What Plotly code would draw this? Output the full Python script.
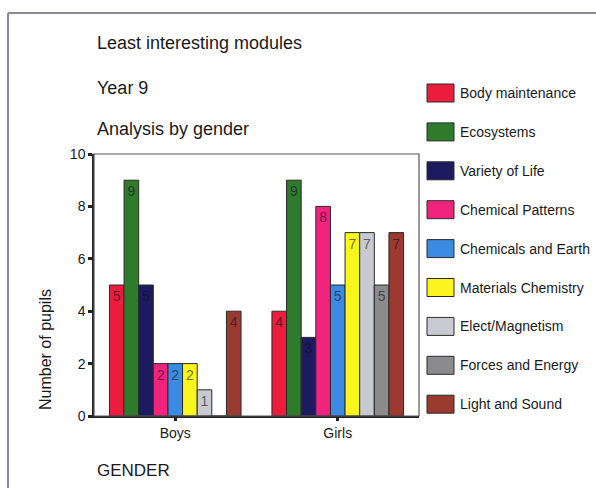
import plotly.graph_objects as go

# Pupil counts for the least interesting modules, Year 9, split by gender
genders = ["Boys", "Girls"]
modules = [
    "Body maintenance",
    "Ecosystems",
    "Variety of Life",
    "Chemical Patterns",
    "Chemicals and Earth",
    "Materials Chemistry",
    "Elect/Magnetism",
    "Forces and Energy",
    "Light and Sound",
]
boys = [5, 9, 5, 2, 2, 2, 1, 0, 4]
girls = [4, 9, 3, 8, 5, 7, 7, 5, 7]
colors = [
    "#ec1c3c", "#2e7b2c", "#1d1b5f", "#f0247c", "#3b8be2",
    "#fbf51e", "#c9c9d1", "#8b8b8e", "#9b3b2f",
]
y_ticks = [0, 2, 4, 6, 8, 10]

FONT = "Arial, Liberation Sans, sans-serif"

fig = go.Figure()
for i, name in enumerate(modules):
    vals = [boys[i], girls[i]]
    fig.add_trace(go.Bar(
        name=name,
        x=genders,
        y=vals,
        marker=dict(color=colors[i], line=dict(color="#2a2a2a", width=1)),
        text=[str(v) if v > 0 else "" for v in vals],
        textposition="inside",
        insidetextanchor="end",
        textangle=0,
        constraintext="none",
        textfont=dict(family=FONT, size=14, color="rgba(15,15,35,0.62)"),
        showlegend=False,
        hoverinfo="x+y+name",
    ))

# Legend drawn as swatches and labels beside the plot
shapes = []
annotations = []
legend_top = 93
legend_step = 38.9
for i, name in enumerate(modules):
    yc = legend_top + i * legend_step
    shapes.append(dict(
        type="rect", xref="paper", yref="paper",
        x0=(427 - 94) / 325, x1=(454 - 94) / 325,
        y0=(416 - (yc + 9)) / 262, y1=(416 - (yc - 9)) / 262,
        fillcolor=colors[i], line=dict(color="#2a2a2a", width=1),
    ))
    annotations.append(dict(
        text=name, xref="paper", yref="paper",
        x=(458 - 94) / 325, y=(416 - yc) / 262,
        xanchor="left", yanchor="middle", showarrow=False,
        font=dict(family=FONT, size=14, color="#1a1a1a"),
    ))

# Plot frame
shapes.append(dict(type="rect", xref="paper", yref="paper", x0=0, x1=1, y0=0, y1=1,
                   line=dict(color="#555560", width=1.2), layer="above"))
# Outer page frame (top and left edges)
shapes.append(dict(type="line", xref="paper", yref="paper",
                   x0=(8 - 94) / 325, x1=(600 - 94) / 325,
                   y0=(416 - 13) / 262, y1=(416 - 13) / 262,
                   line=dict(color="#8a8a98", width=2)))
shapes.append(dict(type="line", xref="paper", yref="paper",
                   x0=(8 - 94) / 325, x1=(8 - 94) / 325,
                   y0=(416 - 13) / 262, y1=(416 - 492) / 262,
                   line=dict(color="#8a8a98", width=2)))

# Heading lines and axis captions
for txt, ypx in [("Least interesting modules", 43), ("Year 9", 88), ("Analysis by gender", 129)]:
    annotations.append(dict(
        text=txt, xref="paper", yref="paper",
        x=(95 - 94) / 325, y=(416 - ypx) / 262,
        xanchor="left", yanchor="middle", showarrow=False,
        font=dict(family=FONT, size=18, color="#1a1a1a"),
    ))
annotations.append(dict(
    text="GENDER", xref="paper", yref="paper",
    x=(95 - 94) / 325, y=(416 - 470) / 262,
    xanchor="left", yanchor="middle", showarrow=False,
    font=dict(family=FONT, size=17, color="#1a1a1a"),
))
annotations.append(dict(
    text="Number of pupils", xref="paper", yref="paper",
    x=(45 - 94) / 325, y=(416 - 350) / 262,
    xanchor="center", yanchor="middle", showarrow=False, textangle=-90,
    font=dict(family=FONT, size=16, color="#1a1a1a"),
))

fig.update_layout(
    width=596, height=488,
    margin=dict(l=94, r=177, t=154, b=72),
    paper_bgcolor="white", plot_bgcolor="white",
    barmode="group", bargap=0.19, bargroupgap=0,
    font=dict(family=FONT, size=13, color="#1a1a1a"),
    shapes=shapes, annotations=annotations,
    xaxis=dict(
        showline=True, linecolor="#222", linewidth=1.5,
        ticks="outside", ticklen=3, tickwidth=3, tickcolor="#222",
        tickfont=dict(family=FONT, size=14, color="#1a1a1a"),
        showgrid=False,
    ),
    yaxis=dict(
        range=[0, 10], tickvals=y_ticks,
        showline=True, linecolor="#222", linewidth=1.5,
        ticks="outside", ticklen=4, tickwidth=3, tickcolor="#222",
        tickfont=dict(family=FONT, size=14, color="#1a1a1a"),
        showgrid=False, zeroline=False,
    ),
)

fig.write_html("out.html")
